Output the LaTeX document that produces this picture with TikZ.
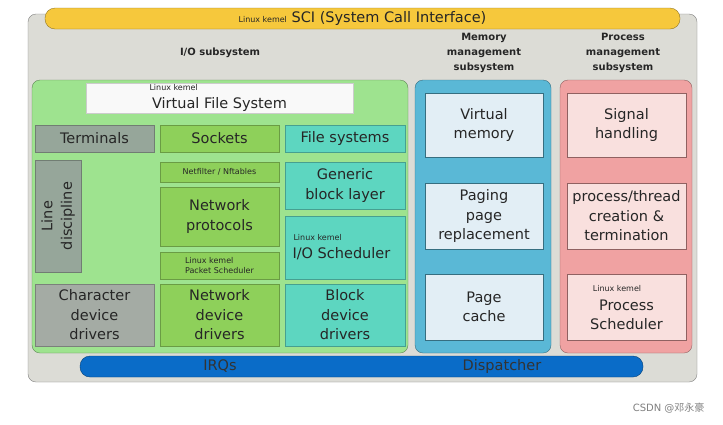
\documentclass[tikz,border=0pt]{standalone}
\usepackage{fontspec}
\setmainfont{DejaVu Sans}
\newfontfamily\cjk{Noto Sans CJK SC}
\begin{document}
\begin{tikzpicture}[x=1pt,y=-1pt,
 lbl/.style={font=\fontsize{14.5}{19.5}\selectfont,align=center,text=black!85},
 sm/.style={font=\fontsize{8}{9}\selectfont,text=black!85},
 hd/.style={font=\bfseries\fontsize{10}{15}\selectfont,align=center,text=black!85}]
\definecolor{outer}{HTML}{DCDCD6}
\definecolor{sci}{HTML}{F6C83C}
\definecolor{iog}{HTML}{9EE38F}
\definecolor{gry}{HTML}{96A69A}
\definecolor{gry2}{HTML}{A4ABA4}
\definecolor{sock}{HTML}{8ED05A}
\definecolor{teal}{HTML}{5DD6C0}
\definecolor{mem}{HTML}{5AB8D6}
\definecolor{memi}{HTML}{E2EEF5}
\definecolor{proc}{HTML}{F0A2A2}
\definecolor{proci}{HTML}{F9E0DE}
\definecolor{irq}{HTML}{0A6CC8}
\useasboundingbox (0,0) rectangle (723,424);
\fill[white] (0,0) rectangle (723,424);
\draw[fill=outer,draw=gray,rounded corners=8pt] (28,14) rectangle (697,382);
\node[draw=sci!60!black,fill=sci,rounded corners=10pt,minimum width=635pt,minimum height=21pt,inner sep=0pt] (sci) at (362.5,18.5) {};
\node[font=\fontsize{14.5}{16}\selectfont,text=black!85] (scit) at (sci) {{\fontsize{8}{9}\selectfont Linux kemel} SCI (System Call Interface)};
\node[hd] (ioh) at (220,53) {I/O subsystem};
\node[hd] (memh) at (484,53) {Memory\\management\\subsystem};
\node[hd] (proch) at (623,53) {Process\\management\\subsystem};
\draw[fill=iog,draw=iog!60!black,rounded corners=8pt] (32,80) rectangle (408,353);
\node[fill=white!95!gray,draw=gray!40,minimum width=267pt,minimum height=30pt,inner sep=0pt] (vfs) at (219.5,98) {};
\node[sm,anchor=west] (vfsk) at (146,88) {Linux kemel};
\node[lbl] (vfst) at (219.5,104) {Virtual File System};
\tikzset{cell/.style={draw=#1!75!black,fill=#1,inner sep=0pt,lbl}}
\node[cell=gry,minimum width=119pt,minimum height=27pt] (term) at (94.5,138.5) {Terminals};
\node[cell=sock,minimum width=119pt,minimum height=27pt] (sock) at (219.5,138.5) {Sockets};
\node[cell=teal,minimum width=120pt,minimum height=27pt] (fs) at (345,138.5) {File systems};
\node[cell=gry,minimum width=46pt,minimum height=112pt] (ld) at (58,216) {};
\node[lbl,rotate=90] (ldt) at (ld) {Line\\discipline};
\node[cell=sock,minimum width=119pt,minimum height=20pt,font=\fontsize{8}{9}\selectfont] (nf) at (219.5,172) {Netfilter / Nftables};
\node[cell=sock,minimum width=119pt,minimum height=59pt] (np) at (219.5,216.5) {Network\\protocols};
\node[cell=sock,minimum width=119pt,minimum height=27pt,font=\fontsize{8}{9.5}\selectfont,align=left] (ps) at (219.5,265.5) {Linux kemel\\Packet Scheduler};
\node[cell=teal,minimum width=120pt,minimum height=47pt] (gb) at (345,185.5) {Generic\\block layer};
\node[cell=teal,minimum width=120pt,minimum height=63pt] (ios) at (345,247.5) {};
\node[sm,anchor=west] (iosk) at (290,238) {Linux kemel};
\node[lbl,anchor=west] (iost) at (289,254) {I/O Scheduler};
\node[cell=gry2,minimum width=119pt,minimum height=62pt] (cdd) at (94.5,315) {Character\\device\\drivers};
\node[cell=sock,minimum width=119pt,minimum height=62pt] (ndd) at (219.5,315) {Network\\device\\drivers};
\node[cell=teal,minimum width=120pt,minimum height=62pt] (bdd) at (345,315) {Block\\device\\drivers};
\draw[fill=mem,draw=mem!60!black,rounded corners=8pt] (415,80) rectangle (551,353);
\node[cell=memi,draw=mem!60!black,minimum width=118pt,minimum height=64pt] (vm) at (484,125) {Virtual\\memory};
\node[cell=memi,draw=mem!60!black,minimum width=118pt,minimum height=66pt] (pg) at (484,216) {Paging\\page\\replacement};
\node[cell=memi,draw=mem!60!black,minimum width=118pt,minimum height=66pt] (pc) at (484,307) {Page\\cache};
\draw[fill=proc,draw=proc!60!black,rounded corners=8pt] (560,80) rectangle (692,353);
\node[cell=proci,draw=proc!60!black,minimum width=119pt,minimum height=64pt] (sh) at (626.5,125) {Signal\\handling};
\node[cell=proci,draw=proc!60!black,minimum width=119pt,minimum height=66pt] (pt) at (626.5,216) {process/thread\\creation \&\\termination};
\node[cell=proci,draw=proc!60!black,minimum width=119pt,minimum height=66pt] (psch) at (626.5,307) {};
\node[sm] (pschk) at (617,289) {Linux kemel};
\node[lbl] (pscht) at (626.5,315) {Process\\Scheduler};
\node[draw=irq!60!black,fill=irq,rounded corners=10pt,minimum width=563pt,minimum height=21pt,inner sep=0pt] (bar) at (361.5,366.5) {};
\node[lbl,text=black!80] (irqs) at (220,366.5) {IRQs};
\node[lbl,text=black!80] (disp) at (502,366.5) {Dispatcher};
\node[text=gray,font=\fontsize{10}{12}\selectfont,anchor=east] (csdn) at (708,408) {CSDN @{\cjk 邓永豪}};
\end{tikzpicture}
\end{document}
